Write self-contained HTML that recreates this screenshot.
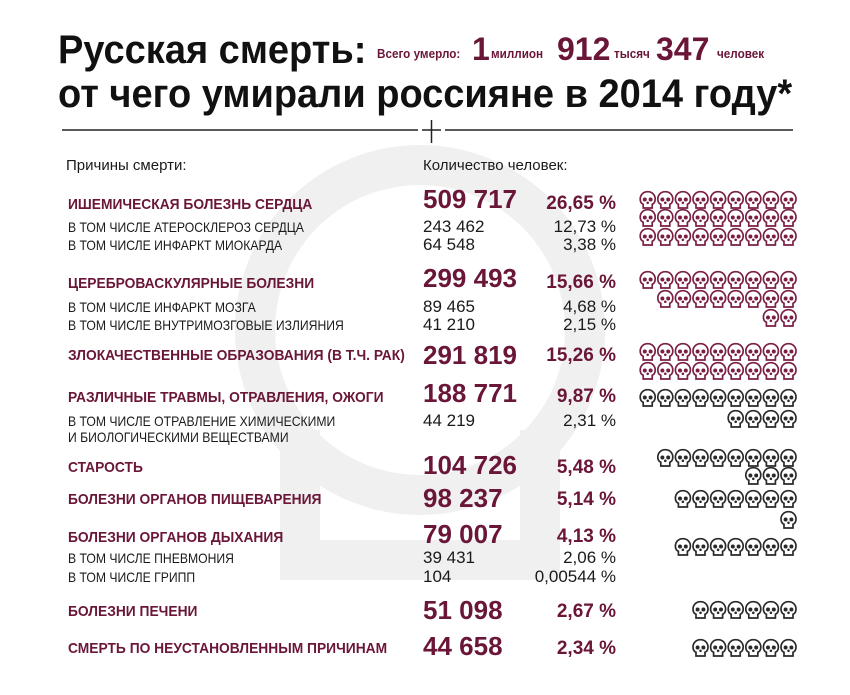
<!DOCTYPE html>
<html><head><meta charset="utf-8">
<style>
html,body{margin:0;padding:0;background:#fff;}
#c{position:relative;width:850px;height:695px;overflow:hidden;background:#fff;font-family:"Liberation Sans","Noto Sans CJK JP",sans-serif;color:#1a1a1a;}
.t{position:absolute;white-space:nowrap;line-height:1;transform-origin:0 0;}
.p{color:#6a1638;font-weight:bold;}
.h{font-size:15px;font-weight:bold;color:#6a1638;transform:scaleX(0.92);}
.s{font-size:14px;transform:scaleX(0.87);}
.n{font-size:26px;font-weight:bold;color:#6a1638;}
.pc{font-size:19px;font-weight:bold;color:#6a1638;text-align:right;width:120px;left:496px;}
.sn{font-size:17px;}
.sp{font-size:17px;text-align:right;width:120px;left:496px;}
.ti{font-size:40px;font-weight:bold;color:#111;transform:scaleX(0.95);}
.sm{font-size:13px;font-weight:bold;color:#6a1638;transform:scaleX(0.9);}
</style></head><body>
<div id="c">
<svg width="850" height="695" style="position:absolute;left:0;top:0">
 <defs>
  <g id="sk">
   <path d="M8.5 1.2 C3.8 1.2 1 4.6 1 8.6 C1 11.3 2.3 13 4 13.8 L4 17.5 L13 17.5 L13 13.8 C14.7 13 16 11.3 16 8.6 C16 4.6 13.2 1.2 8.5 1.2 Z" fill="none" stroke-width="1.7"/>
   <circle cx="5.6" cy="9" r="1.5"/><circle cx="11.4" cy="9" r="1.5"/>
   <circle cx="8.5" cy="12.3" r="0.8"/>
  </g>
 </defs>
 <circle cx="420" cy="330" r="165" fill="none" stroke="#f0f0f0" stroke-width="40"/>
 <path d="M300 430 L300 560 L540 560 L540 430" fill="none" stroke="#f0f0f0" stroke-width="40"/>
 <line x1="62" y1="130" x2="418" y2="130" stroke="#222" stroke-width="1.5"/>
 <line x1="445" y1="130" x2="793" y2="130" stroke="#222" stroke-width="1.5"/>
 <line x1="422" y1="130" x2="441" y2="130" stroke="#222" stroke-width="1.5"/>
 <line x1="431.5" y1="120" x2="431.5" y2="143" stroke="#222" stroke-width="1.5"/>
 <g id="skulls"></g>
</svg>

<div class="t ti" style="left:58px;top:30px;">Русская смерть:</div>
<div class="t sm" style="left:377px;top:47px;">Всего умерло:</div>
<div class="t p" style="left:472px;top:33px;font-size:32px;">1</div>
<div class="t sm" style="left:491px;top:47px;">миллион</div>
<div class="t p" style="left:557px;top:33px;font-size:32px;">912</div>
<div class="t sm" style="left:614px;top:47px;">тысяч</div>
<div class="t p" style="left:656px;top:33px;font-size:32px;">347</div>
<div class="t sm" style="left:717px;top:47px;">человек</div>
<div class="t ti" style="left:58px;top:74px;">от чего умирали россияне в 2014 году*</div>

<div class="t" style="left:66px;top:158px;font-size:15px;">Причины смерти:</div>
<div class="t" style="left:423px;top:158px;font-size:15px;">Количество человек:</div>

<div class="t h" style="left:68px;top:197px;">ИШЕМИЧЕСКАЯ БОЛЕЗНЬ СЕРДЦА</div>
<div class="t n" style="left:423px;top:186px;">509 717</div>
<div class="t pc" style="top:194px;">26,65 %</div>
<div class="t s" style="left:68px;top:220px;">В ТОМ ЧИСЛЕ АТЕРОСКЛЕРОЗ СЕРДЦА</div>
<div class="t sn" style="left:423px;top:218px;">243 462</div>
<div class="t sp" style="top:218px;">12,73 %</div>
<div class="t s" style="left:68px;top:238px;">В ТОМ ЧИСЛЕ ИНФАРКТ МИОКАРДА</div>
<div class="t sn" style="left:423px;top:236px;">64 548</div>
<div class="t sp" style="top:236px;">3,38 %</div>

<div class="t h" style="left:68px;top:276px;">ЦЕРЕБРОВАСКУЛЯРНЫЕ БОЛЕЗНИ</div>
<div class="t n" style="left:423px;top:265px;">299 493</div>
<div class="t pc" style="top:273px;">15,66 %</div>
<div class="t s" style="left:68px;top:300px;">В ТОМ ЧИСЛЕ ИНФАРКТ МОЗГА</div>
<div class="t sn" style="left:423px;top:298px;">89 465</div>
<div class="t sp" style="top:298px;">4,68 %</div>
<div class="t s" style="left:68px;top:318px;">В ТОМ ЧИСЛЕ ВНУТРИМОЗГОВЫЕ ИЗЛИЯНИЯ</div>
<div class="t sn" style="left:423px;top:316px;">41 210</div>
<div class="t sp" style="top:316px;">2,15 %</div>

<div class="t h" style="left:68px;top:348px;">ЗЛОКАЧЕСТВЕННЫЕ ОБРАЗОВАНИЯ (В Т.Ч. РАК)</div>
<div class="t n" style="left:423px;top:342px;">291 819</div>
<div class="t pc" style="top:346px;">15,26 %</div>

<div class="t h" style="left:68px;top:390px;">РАЗЛИЧНЫЕ ТРАВМЫ, ОТРАВЛЕНИЯ, ОЖОГИ</div>
<div class="t n" style="left:423px;top:380px;">188 771</div>
<div class="t pc" style="top:387px;">9,87 %</div>
<div class="t s" style="left:68px;top:414px;">В ТОМ ЧИСЛЕ ОТРАВЛЕНИЕ ХИМИЧЕСКИМИ</div>
<div class="t s" style="left:68px;top:430px;">И БИОЛОГИЧЕСКИМИ ВЕЩЕСТВАМИ</div>
<div class="t sn" style="left:423px;top:412px;">44 219</div>
<div class="t sp" style="top:412px;">2,31 %</div>

<div class="t h" style="left:68px;top:460px;">СТАРОСТЬ</div>
<div class="t n" style="left:423px;top:452px;">104 726</div>
<div class="t pc" style="top:458px;">5,48 %</div>

<div class="t h" style="left:68px;top:492px;">БОЛЕЗНИ ОРГАНОВ ПИЩЕВАРЕНИЯ</div>
<div class="t n" style="left:423px;top:485px;">98 237</div>
<div class="t pc" style="top:490px;">5,14 %</div>

<div class="t h" style="left:68px;top:530px;">БОЛЕЗНИ ОРГАНОВ ДЫХАНИЯ</div>
<div class="t n" style="left:423px;top:521px;">79 007</div>
<div class="t pc" style="top:527px;">4,13 %</div>
<div class="t s" style="left:68px;top:551px;">В ТОМ ЧИСЛЕ ПНЕВМОНИЯ</div>
<div class="t sn" style="left:423px;top:549px;">39 431</div>
<div class="t sp" style="top:549px;">2,06 %</div>
<div class="t s" style="left:68px;top:570px;">В ТОМ ЧИСЛЕ ГРИПП</div>
<div class="t sn" style="left:423px;top:568px;">104</div>
<div class="t sp" style="top:568px;">0,00544 %</div>

<div class="t h" style="left:68px;top:604px;">БОЛЕЗНИ ПЕЧЕНИ</div>
<div class="t n" style="left:423px;top:597px;">51 098</div>
<div class="t pc" style="top:602px;">2,67 %</div>

<div class="t h" style="left:68px;top:641px;">СМЕРТЬ ПО НЕУСТАНОВЛЕННЫМ ПРИЧИНАМ</div>
<div class="t n" style="left:423px;top:633px;">44 658</div>
<div class="t pc" style="top:639px;">2,34 %</div>
</div>
<script>
var rows=[[200,9,1],[218,9,1],[237,9,1],[280,9,1],[299,8,1],[318,2,1],[352,9,1],[371,9,1],
[398,9,0],[419,4,0],[458,8,0],[476,3,0],[499,7,0],[520,1,0],[547,7,0],[610,6,0],[648,6,0]];
var g=document.getElementById('skulls'),h='';
rows.forEach(function(r){var col=r[2]?'#7a1f45':'#2a2a2a';
for(var i=0;i<r[1];i++){var x=797-17-i*17.6,y=r[0]-9.5;
h+='<use href="#sk" xlink:href="#sk" x="'+x.toFixed(1)+'" y="'+y+'" stroke="'+col+'" fill="'+col+'"/>';}});
g.innerHTML=h;
</script>
</body></html>
